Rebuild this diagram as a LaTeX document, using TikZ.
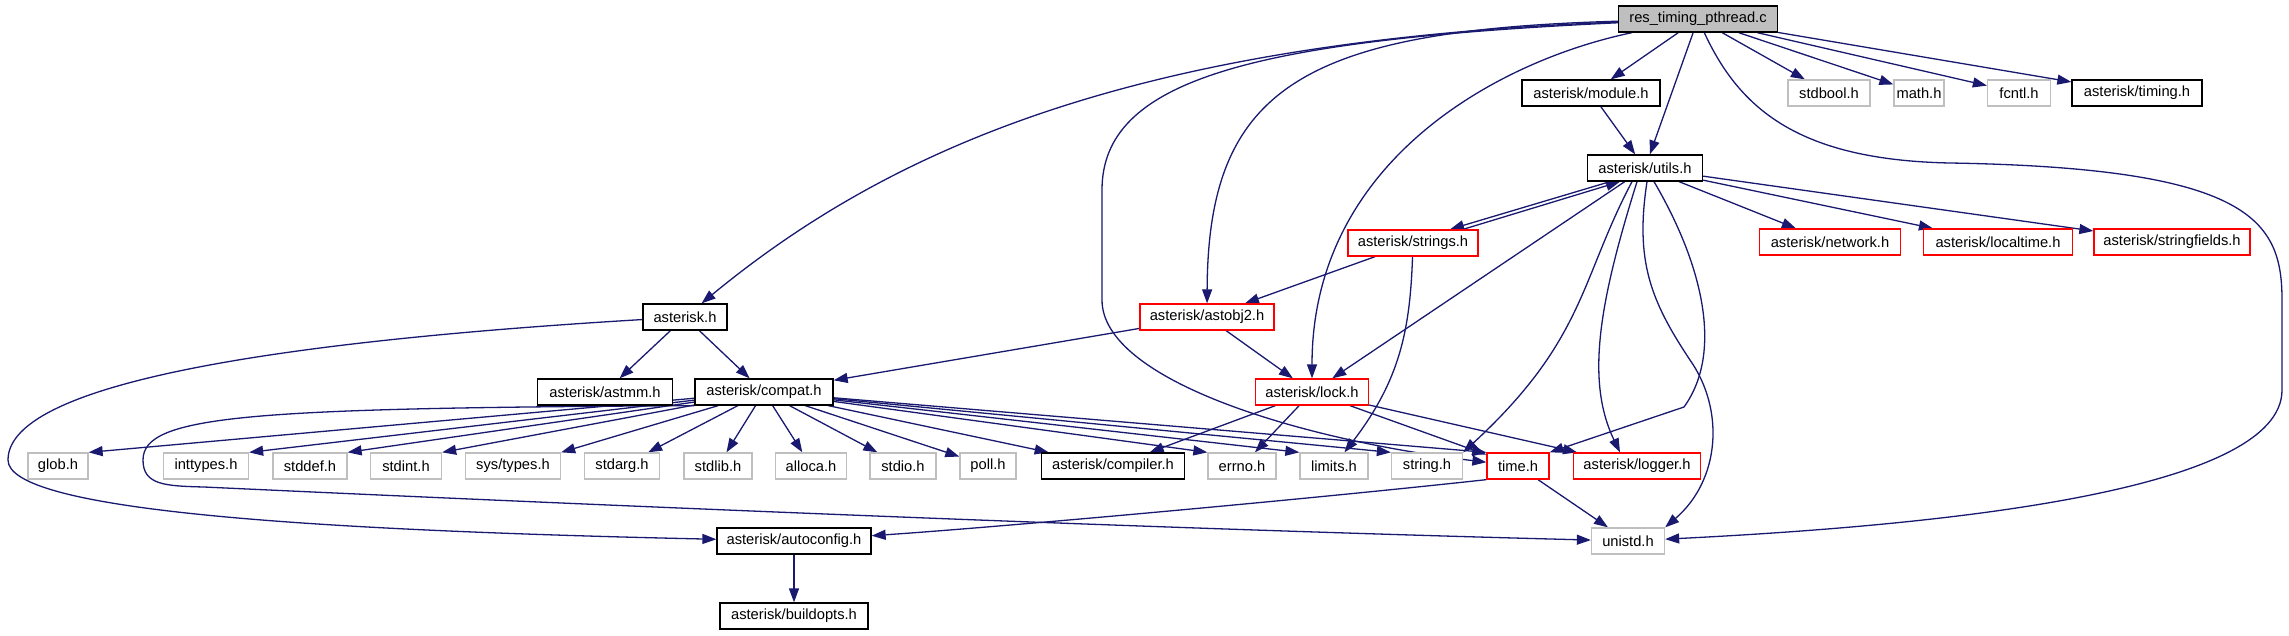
\documentclass[tikz,border=0pt]{standalone}
\usepackage{fontspec}
\setmainfont{Liberation Sans}
\usetikzlibrary{arrows.meta}
\definecolor{edgec}{HTML}{191970}
\definecolor{greyc}{HTML}{BFBFBF}
\pgfdeclarelayer{background}
\pgfdeclarelayer{canvas}
\pgfsetlayers{canvas,background,main}
\begin{document}
\begin{tikzpicture}[x=1pt,y=-1pt,
  box/.style={draw=black, line width=1.3pt, rectangle, minimum height=26pt, inner sep=0pt, fill=white, font=\fontsize{14.7}{16}\selectfont},
  sys/.style={box, draw=greyc},
  trunc/.style={box, draw=red},
  root/.style={box, fill=greyc},
  edge/.style={draw=edgec, line width=1.3pt, -{Triangle[length=14pt,width=10pt]}}]
\begin{pgfonlayer}{canvas}
\fill[white] (0,0) rectangle (2289,635);
\end{pgfonlayer}
\useasboundingbox (0,0) rectangle (2289,635);
% row 1
\node[root, minimum width=159pt] (R) at (1698,19) {res\_timing\_pthread.c};
% row 2
\node[box, minimum width=138pt] (module) at (1591,93) {asterisk/module.h};
\node[sys, minimum width=82pt] (stdbool) at (1829,93) {stdbool.h};
\node[sys, minimum width=50pt] (math) at (1919,93) {math.h};
\node[sys, minimum width=63pt] (fcntl) at (2019,93) {fcntl.h};
\node[box, minimum width=130pt] (timing) at (2137,93) {asterisk/timing.h};
% row 3
\node[box, minimum width=115pt] (utils) at (1645,168) {asterisk/utils.h};
% row 4
\node[trunc, minimum width=130pt] (strings) at (1413,243) {asterisk/strings.h};
\node[trunc, minimum width=141pt] (network) at (1830,242) {asterisk/network.h};
\node[trunc, minimum width=149pt] (localtime) at (1998,242) {asterisk/localtime.h};
\node[trunc, minimum width=156pt] (stringfields) at (2172,242) {asterisk/stringfields.h};
% row 5
\node[box, minimum width=84pt] (asterisk) at (685,317) {asterisk.h};
\node[trunc, minimum width=134pt] (astobj2) at (1207,317) {asterisk/astobj2.h};
% row 6
\node[box, minimum width=135pt] (astmm) at (605,392) {asterisk/astmm.h};
\node[box, minimum width=138pt] (compat) at (764,392) {asterisk/compat.h};
\node[trunc, minimum width=113pt] (lock) at (1312,392) {asterisk/lock.h};
% row 7
\node[sys, minimum width=60pt] (glob) at (58,466) {glob.h};
\node[sys, minimum width=85pt] (inttypes) at (206,466) {inttypes.h};
\node[sys, minimum width=74pt] (stddef) at (310,466) {stddef.h};
\node[sys, minimum width=71pt] (stdint) at (406,466) {stdint.h};
\node[sys, minimum width=95pt] (systypes) at (513,466) {sys/types.h};
\node[sys, minimum width=75pt] (stdarg) at (622,466) {stdarg.h};
\node[sys, minimum width=68pt] (stdlib) at (718,466) {stdlib.h};
\node[sys, minimum width=71pt] (alloca) at (811,466) {alloca.h};
\node[sys, minimum width=66pt] (stdio) at (903,466) {stdio.h};
\node[sys, minimum width=56pt] (poll) at (988,466) {poll.h};
\node[box, minimum width=143pt] (compiler) at (1113,466) {asterisk/compiler.h};
\node[sys, minimum width=68pt] (errno) at (1242,466) {errno.h};
\node[sys, minimum width=68pt] (limits) at (1334,466) {limits.h};
\node[sys, minimum width=71pt] (string) at (1427,466) {string.h};
\node[trunc, minimum width=62pt] (time) at (1518,466) {time.h};
\node[trunc, minimum width=127pt] (logger) at (1637,466) {asterisk/logger.h};
% row 8
\node[box, minimum width=154pt] (autoconfig) at (794,541) {asterisk/autoconfig.h};
\node[sys, minimum width=73pt] (unistd) at (1628,541) {unistd.h};
% row 9
\node[box, minimum width=148pt] (buildopts) at (794,616) {asterisk/buildopts.h};

\begin{pgfonlayer}{background}
% from root
\draw[edge] (R) -- (module);
\draw[edge] (R) -- (utils);
\draw[edge] (R) -- (stdbool);
\draw[edge] (R) -- (math);
\draw[edge] (R) -- (fcntl);
\draw[edge] (R) -- (timing);
\draw[edge] (R) .. controls (1150,40) and (900,140) .. (asterisk);
\draw[edge] (R) .. controls (1300,30) and (1208,90) .. (astobj2);
\draw[edge] (R) .. controls (1250,40) and (1102,80) .. (1102,190) -- (1102,300) .. controls (1102,380) and (1300,440) .. (time);
\draw[edge] (R) .. controls (1500,60) and (1312,160) .. (lock);
\draw[edge] (R) .. controls (1740,110) and (1800,160) .. (1950,163) .. controls (2250,168) and (2282,220) .. (2282,300) -- (2282,390) .. controls (2282,490) and (1950,525) .. (unistd);
% module
\draw[edge] (module) -- (utils);
% utils
\draw[edge] ([xshift=-35pt]utils.south) -- ([xshift=37pt]strings.north);
\draw[edge] ([xshift=50pt]strings.north) -- ([xshift=-25pt]utils.south);
\draw[edge] (utils) -- (network);
\draw[edge] (utils) -- (localtime);
\draw[edge] (utils) -- (stringfields);
\draw[edge] (utils) -- (lock);
\draw[edge] ([xshift=-13pt]utils.south) .. controls (1580,280) and (1585,340) .. (string.north east);
\draw[edge] ([xshift=-8pt]utils.south) .. controls (1600,300) and (1585,380) .. ([xshift=-17pt]logger.north);
\draw[edge] ([xshift=2pt]utils.south) .. controls (1635,260) and (1650,300) .. (1690,360) .. controls (1725,410) and (1720,480) .. (unistd.north east);
\draw[edge] ([xshift=9pt]utils.south) .. controls (1700,260) and (1725,350) .. (1684,407) -- (time.north east);
% strings
\draw[edge] (strings) -- (astobj2);
\draw[edge] (strings) .. controls (1410,330) and (1400,380) .. (limits);
% astobj2
\draw[edge] (astobj2) -- (compat);
\draw[edge] (astobj2) -- (lock);
% asterisk.h
\draw[edge] (asterisk) -- (astmm);
\draw[edge] (asterisk) -- (compat);
\draw[edge] (asterisk) .. controls (300,340) and (8,380) .. (8,460) .. controls (8,510) and (300,530) .. (autoconfig);
% compat
\draw[edge] (compat) -- (glob.north east);
\draw[edge] (compat) -- (inttypes.north east);
\draw[edge] (compat) -- (stddef.north east);
\draw[edge] (compat) -- (stdint.north east);
\draw[edge] (compat) -- (systypes.north east);
\draw[edge] (compat) -- (stdarg);
\draw[edge] (compat) -- (stdlib);
\draw[edge] (compat) -- (alloca);
\draw[edge] (compat) -- (stdio);
\draw[edge] (compat) -- (poll);
\draw[edge] (compat) -- (compiler);
\draw[edge] (compat) -- (errno.north west);
\draw[edge] (compat) -- (limits.north west);
\draw[edge] (compat) -- (string.north west);
\draw[edge] (compat) -- (time.north west);
\draw[edge] (compat.south west) .. controls (250,408) and (143,415) .. (143,460) .. controls (143,485) and (165,486) .. (204,487) .. controls (700,510) and (1200,530) .. (unistd);
% lock
\draw[edge] (lock) -- (compiler);
\draw[edge] (lock) -- (errno);
\draw[edge] (lock) -- (time);
\draw[edge] (lock) -- (logger);
% time
\draw[edge] (time.south west) .. controls (1300,500) and (1000,527) .. (autoconfig);
\draw[edge] (time) -- (unistd);
% autoconfig
\draw[edge] (autoconfig) -- (buildopts);
\end{pgfonlayer}
\end{tikzpicture}
\end{document}
